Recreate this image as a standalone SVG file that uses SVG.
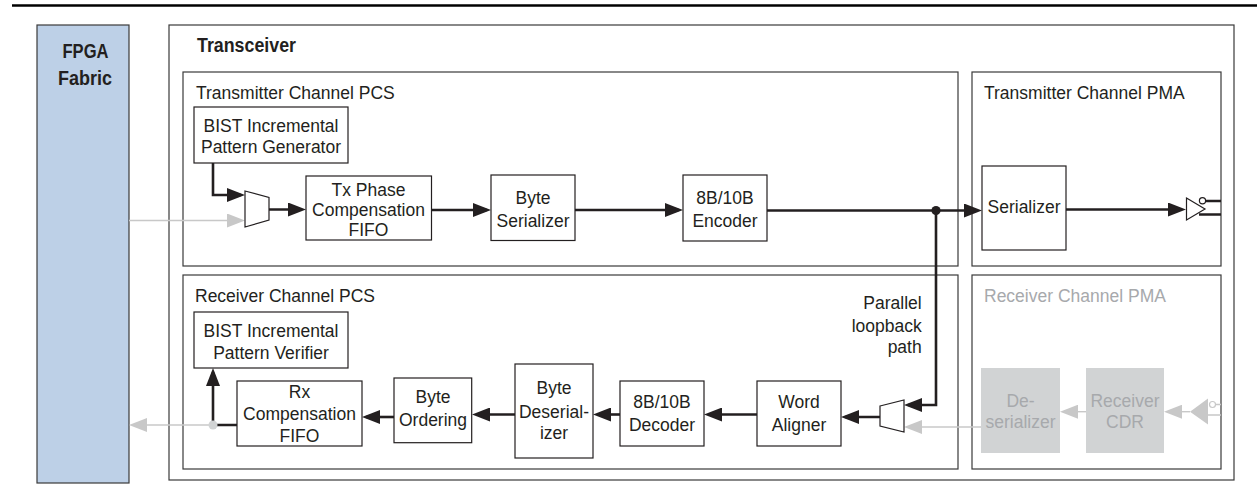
<svg xmlns="http://www.w3.org/2000/svg" width="1257" height="495" viewBox="0 0 1257 495">
<style>
.frame{fill:none;stroke:#3a3a3a;stroke-width:1.2}
.box{fill:#ffffff;stroke:#231f20;stroke-width:1.2}
.gbox{fill:#d1d3d4;stroke:none}
.t{font-family:"Liberation Sans",Arial,sans-serif;font-size:17.5px;fill:#231f20}
.tc{text-anchor:middle}
.tg{fill:#a7a9ac}
.b{font-family:"Liberation Sans",Arial,sans-serif;font-weight:bold;fill:#231f20}
.w{fill:none;stroke:#231f20;stroke-width:2.6}
.g{fill:none;stroke:#c8c8c8;stroke-width:1.4}
</style>
<defs>
<marker id="ab" viewBox="0 0 18 14" refX="14" refY="7" markerWidth="18" markerHeight="14" markerUnits="userSpaceOnUse" orient="auto"><path d="M0,0 L18,7 L0,14 z" fill="#231f20"/></marker>
<marker id="ag" viewBox="0 0 18 14" refX="14" refY="7" markerWidth="18" markerHeight="14" markerUnits="userSpaceOnUse" orient="auto"><path d="M0,0 L18,7 L0,14 z" fill="#c8c8c8"/></marker>
</defs>
<rect width="1257" height="495" fill="#ffffff"/>
<line x1="12" y1="5.5" x2="1257" y2="5.5" stroke="#000000" stroke-width="2.7"/>

<g id="fpga">
<rect x="37" y="25" width="92" height="458" fill="#bdd0e7" stroke="#3a3a3a" stroke-width="1.2"/>
<text class="b" x="85.5" y="57.7" font-size="20" text-anchor="middle" textLength="46" lengthAdjust="spacingAndGlyphs">FPGA</text>
<text class="b" x="85" y="85" font-size="20" text-anchor="middle" textLength="54" lengthAdjust="spacingAndGlyphs">Fabric</text>
</g>

<g id="transceiver">
<rect class="frame" x="169" y="25" width="1065" height="455"/>
<text class="b" x="197" y="51.7" font-size="19.5" textLength="99" lengthAdjust="spacingAndGlyphs">Transceiver</text>
</g>

<g id="tx-pcs">
<rect class="frame" x="183" y="72" width="775" height="194"/>
<text class="t" x="196" y="99">Transmitter Channel PCS</text>
</g>
<g id="rx-pcs">
<rect class="frame" x="183" y="275" width="775" height="194"/>
<text class="t" x="195" y="302.3">Receiver Channel PCS</text>
</g>
<g id="tx-pma">
<rect class="frame" x="972" y="72" width="249" height="194"/>
<text class="t" x="984" y="99">Transmitter Channel PMA</text>
</g>
<g id="rx-pma">
<rect class="frame" x="972" y="275" width="249" height="194"/>
<text class="t tg" x="984" y="302.3">Receiver Channel PMA</text>
</g>

<g id="connectors">
<path class="g" d="M129,220.5 H241" marker-end="url(#ag)"/>
<path class="g" d="M213,425 H133" marker-end="url(#ag)"/>
<path class="g" d="M981,427 H908" marker-end="url(#ag)"/>
<path class="g" d="M1086,411.7 H1064" marker-end="url(#ag)"/>
<path class="g" d="M1190,411.7 H1168" marker-end="url(#ag)"/>
<path class="w" d="M213,163 V195 H241" marker-end="url(#ab)"/>
<path class="w" d="M269,209.5 H302" marker-end="url(#ab)"/>
<path class="w" d="M431,210 H487" marker-end="url(#ab)"/>
<path class="w" d="M575,210 H679" marker-end="url(#ab)"/>
<path class="w" d="M767,210.5 H978" marker-end="url(#ab)"/>
<path class="w" d="M936,210.5 V405 H908" marker-end="url(#ab)"/>
<circle cx="936" cy="210.5" r="4.6" fill="#231f20"/>
<path class="w" d="M1066,209.5 H1182" marker-end="url(#ab)"/>
<path class="w" d="M1205,201 H1221 M1199,214.5 H1221"/>
<path class="w" d="M880,417 H845" marker-end="url(#ab)"/>
<path class="w" d="M757,414.5 H708" marker-end="url(#ab)"/>
<path class="w" d="M620,414.5 H597" marker-end="url(#ab)"/>
<path class="w" d="M515,414.5 H476" marker-end="url(#ab)"/>
<path class="w" d="M394,417 H366" marker-end="url(#ab)"/>
<path class="w" d="M237,425 H213 V372" marker-end="url(#ab)"/>
<circle cx="213" cy="425" r="4.5" fill="#d1d3d4"/>
<path class="g" d="M1215.5,404.5 H1221 M1208,415 H1221"/>
</g>

<g id="tx-mux"><polygon class="box" points="245,191 269,197.5 269,220 245,227"/></g>
<g id="rx-mux"><polygon class="box" points="880,406 904,400 904,432 880,426"/></g>
<g id="tx-buffer">
<polygon class="box" points="1186.5,198 1205,209 1186.5,220"/>
<circle cx="1202.5" cy="200.8" r="3.1" fill="#ffffff" stroke="#231f20" stroke-width="1.2"/>
</g>
<g id="rx-buffer">
<polygon points="1208,398.5 1190,411.7 1208,424.5" fill="#c8c8c8"/>
<circle cx="1212.5" cy="404.5" r="3" fill="#ffffff" stroke="#c8c8c8" stroke-width="1.2"/>
</g>

<g id="bist-gen">
<rect class="box" x="194" y="107" width="154" height="56"/>
<text class="t tc" x="271" y="132">BIST Incremental</text>
<text class="t tc" x="271" y="152.5">Pattern Generator</text>
</g>
<g id="tx-phase-fifo">
<rect class="box" x="306" y="176" width="125.5" height="64"/>
<text class="t tc" x="368.5" y="196">Tx Phase</text>
<text class="t tc" x="368.5" y="216">Compensation</text>
<text class="t tc" x="368.5" y="235.5">FIFO</text>
</g>
<g id="byte-serializer">
<rect class="box" x="491" y="175" width="84" height="65.5"/>
<text class="t tc" x="533" y="204">Byte</text>
<text class="t tc" x="533" y="226.7">Serializer</text>
</g>
<g id="encoder">
<rect class="box" x="683" y="175" width="84" height="66"/>
<text class="t tc" x="725" y="204">8B/10B</text>
<text class="t tc" x="725" y="227">Encoder</text>
</g>
<g id="serializer">
<rect class="box" x="982" y="166" width="84" height="84"/>
<text class="t tc" x="1024" y="213.3">Serializer</text>
</g>

<g id="bist-ver">
<rect class="box" x="194" y="312" width="154" height="56"/>
<text class="t tc" x="271" y="337">BIST Incremental</text>
<text class="t tc" x="271" y="359">Pattern Verifier</text>
</g>
<g id="rx-fifo">
<rect class="box" x="237" y="381" width="125" height="65"/>
<text class="t tc" x="299.5" y="397.7">Rx</text>
<text class="t tc" x="299.5" y="420">Compensation</text>
<text class="t tc" x="299.5" y="442">FIFO</text>
</g>
<g id="byte-ordering">
<rect class="box" x="394" y="378" width="77.7" height="64.7"/>
<text class="t tc" x="433" y="403">Byte</text>
<text class="t tc" x="433" y="426">Ordering</text>
</g>
<g id="byte-deserializer">
<rect class="box" x="515" y="364" width="78" height="94"/>
<text class="t tc" x="554" y="394.3">Byte</text>
<text class="t tc" x="554" y="418">Deserial-</text>
<text class="t tc" x="554" y="439.3">izer</text>
</g>
<g id="decoder">
<rect class="box" x="620" y="381" width="84" height="65"/>
<text class="t tc" x="662" y="408.3">8B/10B</text>
<text class="t tc" x="662" y="430.7">Decoder</text>
</g>
<g id="word-aligner">
<rect class="box" x="757" y="381" width="84" height="65"/>
<text class="t tc" x="799" y="408.3">Word</text>
<text class="t tc" x="799" y="431">Aligner</text>
</g>
<g id="loopback-label">
<text class="t" x="921.7" y="309" text-anchor="end">Parallel</text>
<text class="t" x="921.7" y="331.7" text-anchor="end">loopback</text>
<text class="t" x="921.7" y="353" text-anchor="end">path</text>
</g>
<g id="deserializer">
<rect class="gbox" x="981" y="368" width="79" height="85"/>
<text class="t tc tg" x="1020.5" y="406.7">De-</text>
<text class="t tc tg" x="1020.5" y="428">serializer</text>
</g>
<g id="receiver-cdr">
<rect class="gbox" x="1086" y="368" width="78" height="85"/>
<text class="t tc tg" x="1125" y="406.7">Receiver</text>
<text class="t tc tg" x="1125" y="428">CDR</text>
</g>
</svg>
